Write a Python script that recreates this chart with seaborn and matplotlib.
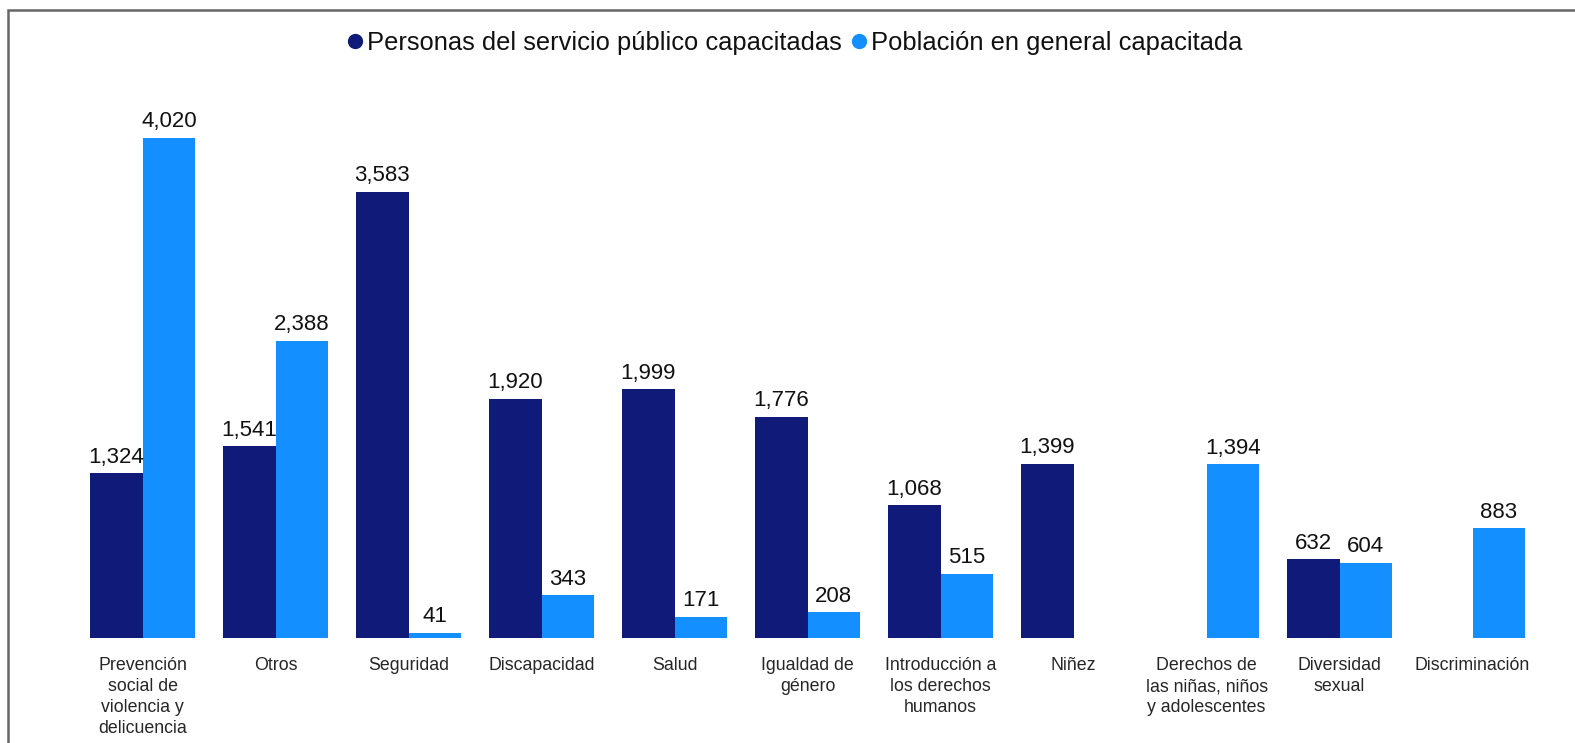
import numpy as np
import pandas as pd
import matplotlib
matplotlib.use("Agg")
import matplotlib.pyplot as plt
from matplotlib.lines import Line2D
from matplotlib.patches import Rectangle
import seaborn as sns

categorias = [
    "Prevención\nsocial de\nviolencia y\ndelicuencia",
    "Otros",
    "Seguridad",
    "Discapacidad",
    "Salud",
    "Igualdad de\ngénero",
    "Introducción a\nlos derechos\nhumanos",
    "Niñez",
    "Derechos de\nlas niñas, niños\ny adolescentes",
    "Diversidad\nsexual",
    "Discriminación",
]
servicio_publico = [1324, 1541, 3583, 1920, 1999, 1776, 1068, 1399, np.nan, 632, np.nan]
poblacion_general = [4020, 2388, 41, 343, 171, 208, 515, np.nan, 1394, 604, 883]
series = ["Personas del servicio público capacitadas", "Población en general capacitada"]
colores = ["#101a78", "#148fff"]

df = pd.DataFrame({
    "categoria": categorias * 2,
    "serie": [series[0]] * len(categorias) + [series[1]] * len(categorias),
    "valor": servicio_publico + poblacion_general,
})

sns.set_theme(style="white")
plt.rcParams["font.family"] = ["Liberation Sans", "DejaVu Sans"]

fig = plt.figure(figsize=(15.75, 7.43), dpi=100)
ax = fig.add_axes([0.0483, 0.1413, 0.9289, 0.7372])

sns.barplot(
    data=df, x="categoria", y="valor", hue="serie",
    order=categorias, hue_order=series, palette=colores,
    width=0.79, saturation=1, errorbar=None, ax=ax, legend=False,
    linewidth=0,
)

for cont in ax.containers:
    ax.bar_label(cont, fmt="{:,.0f}", padding=4, fontsize=16, color="#111111")

ax.set_xlim(-0.5, len(categorias) - 0.5)
ax.set_ylim(0, 4400)
ax.set_xlabel("")
ax.set_ylabel("")
ax.set_yticks([])
for s in ax.spines.values():
    s.set_visible(False)
ax.tick_params(axis="x", length=0, pad=14, labelsize=12.8, labelcolor="#262626")
for lbl in ax.get_xticklabels():
    lbl.set_linespacing(1.3)
    lbl.set_verticalalignment("top")

handles = [
    Line2D([], [], marker="o", linestyle="none", markersize=10,
           markerfacecolor=c, markeredgecolor=c)
    for c in colores
]
fig.legend(
    handles, series, loc="center", bbox_to_anchor=(0.505, 0.942),
    ncol=2, frameon=False, fontsize=18.35, handlelength=0.5,
    handletextpad=0.2, columnspacing=0.45, labelcolor="#111111",
)

# outer frame of the chart area
fig.add_artist(Rectangle((8 / 1575, -0.05), 1.2, 1.05 - 10 / 743,
                         transform=fig.transFigure, fill=False,
                         edgecolor="#666666", linewidth=1.8, clip_on=False))

fig.savefig("out.png", dpi=100)
